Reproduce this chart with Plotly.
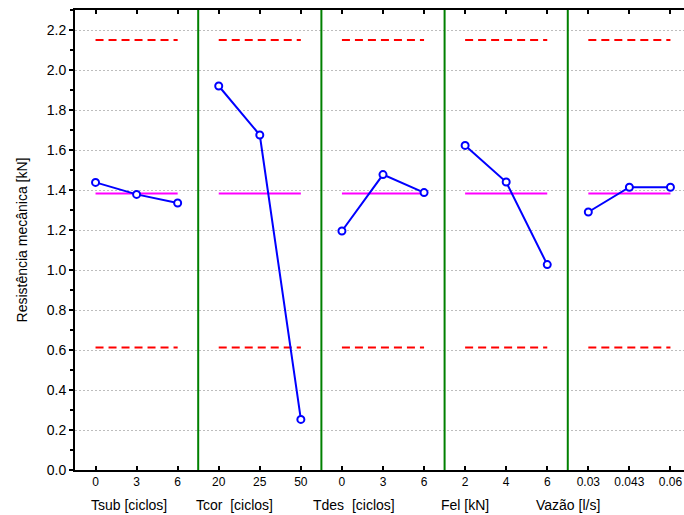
import plotly.graph_objects as go

# Factor names, their levels and the mean response at each level
factors = ["Tsub [ciclos]", "Tcor\u00a0\u00a0[ciclos]", "Tdes\u00a0\u00a0[ciclos]", "Fel [kN]", "Vazão [l/s]"]
levels = [
    ["0", "3", "6"],
    ["20", "25", "50"],
    ["0", "3", "6"],
    ["2", "4", "6"],
    ["0.03", "0.043", "0.06"],
]
means = [
    [1.438, 1.378, 1.335],
    [1.920, 1.675, 0.253],
    [1.195, 1.477, 1.387],
    [1.623, 1.440, 1.027],
    [1.290, 1.414, 1.414],
]
grand_mean = 1.383
upper_limit = 2.150
lower_limit = 0.613

# Horizontal centre of each factor caption, in category units
caption_x = [0.82, 3.38, 6.29, 8.99, 11.5]

n_lev = 3
fig = go.Figure()

tickvals, ticktext = [], []
for g, (lv, m) in enumerate(zip(levels, means)):
    xs = [g * n_lev + j for j in range(n_lev)]
    tickvals += xs
    ticktext += lv
    span = [xs[0], xs[-1]]
    # control limits
    for lim in (upper_limit, lower_limit):
        fig.add_trace(go.Scatter(
            x=span, y=[lim, lim], mode="lines",
            line=dict(color="#ff0000", width=2, dash="8px,5px"),
            hoverinfo="skip", showlegend=False))
    # grand mean
    fig.add_trace(go.Scatter(
        x=span, y=[grand_mean, grand_mean], mode="lines",
        line=dict(color="#ff00ff", width=2),
        hoverinfo="skip", showlegend=False))
    # factor level means
    fig.add_trace(go.Scatter(
        x=xs, y=m, mode="lines+markers",
        line=dict(color="#0000ff", width=2),
        marker=dict(symbol="circle", size=7, color="white",
                    line=dict(color="#0000ff", width=2)),
        showlegend=False))
    # green separator between factors
    if g < len(levels) - 1:
        fig.add_shape(type="line", xref="x", yref="paper",
                      x0=g * n_lev + n_lev - 0.5, x1=g * n_lev + n_lev - 0.5,
                      y0=0, y1=1, line=dict(color="#008000", width=2))
    fig.add_annotation(x=caption_x[g], xref="x", y=-0.076, yref="paper",
                       text=factors[g], showarrow=False,
                       font=dict(size=14, color="#000000"), yanchor="middle")

font_family = "Liberation Sans, Arial, sans-serif"

fig.update_layout(
    width=684, height=515,
    margin=dict(l=75, r=0, t=10, b=45),
    paper_bgcolor="white", plot_bgcolor="white",
    font=dict(family=font_family, color="#000000"),
    xaxis=dict(
        range=[-0.5, 14.33], tickvals=tickvals, ticktext=ticktext,
        ticks="inside", ticklen=4, tickwidth=2, tickcolor="black",
        showline=True, linecolor="black", linewidth=2, mirror="ticks",
        showgrid=False, zeroline=False, tickfont=dict(size=12),
    ),
    yaxis=dict(
        range=[0, 2.3], tick0=0, dtick=0.2, tickformat=".1f",
        ticks="outside", ticklen=4, tickwidth=1.5, tickcolor="black",
        minor=dict(dtick=0.1, ticks="outside", ticklen=3, tickcolor="black",
                   showgrid=False),
        showline=True, linecolor="black", linewidth=2,
        showgrid=True, gridcolor="#bdbdbd", gridwidth=1, griddash="2px,2px",
        zeroline=False, tickfont=dict(size=14),
        title=dict(text="Resistência mecânica [kN]", font=dict(size=14),
                   standoff=16),
    ),
)

fig.write_html("out.html")
